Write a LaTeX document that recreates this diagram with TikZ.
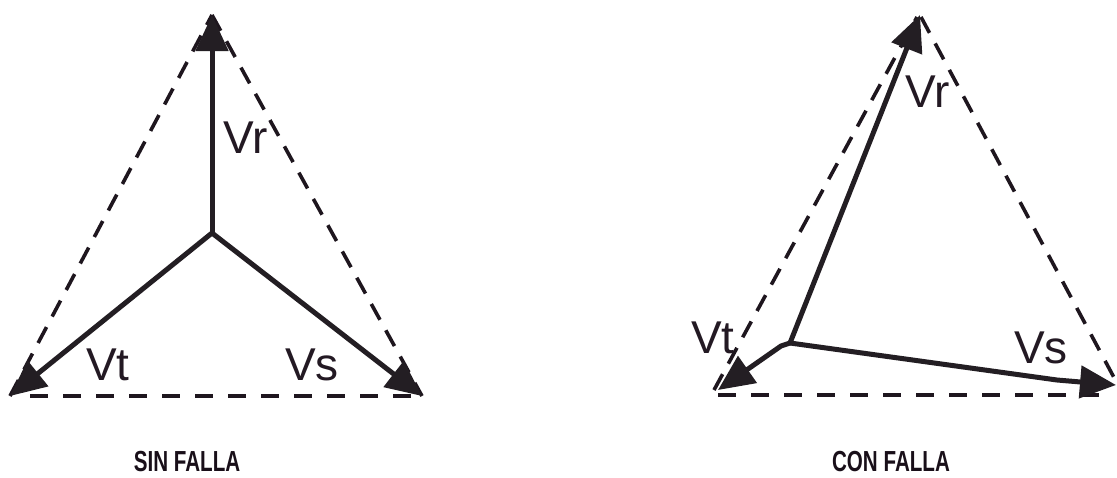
\documentclass[tikz,border=0pt]{standalone}
\usepackage{fontspec}
\setmainfont{Liberation Sans}
\usetikzlibrary{arrows.meta}
\begin{document}
\begin{tikzpicture}[x=1pt,y=-1pt,
  vec/.style={line width=5pt,draw={rgb,255:red,35;green,30;blue,35},-{Triangle[length=36pt,width=32pt]}},
  dsh/.style={line width=3.6pt,draw={rgb,255:red,30;green,22;blue,30},dash pattern=on 18pt off 12pt},
  dshb/.style={line width=3.8pt,draw={rgb,255:red,30;green,22;blue,30},dash pattern=on 18pt off 15pt},
  lbl/.style={font=\fontsize{46}{50}\selectfont,inner sep=0pt,anchor=base,text={rgb,255:red,35;green,25;blue,35}},
  captxt/.style={font=\bfseries\fontsize{29}{32}\selectfont,inner sep=0pt,anchor=base,text={rgb,255:red,25;green,15;blue,25}}]
\useasboundingbox (0,0) rectangle (1117,477);
% left diagram
\coordinate (O1) at (212,233);
\coordinate (R1) at (212,15);
\coordinate (T1) at (10,396);
\coordinate (S1) at (422,396);
\coordinate (T1d) at (10,396);
\coordinate (B1a) at (30,396);
\coordinate (B1b) at (420,396);
\draw[dsh] (T1d) -- (R1);
\draw[dsh] (R1) -- (S1);
\draw[dshb] (B1a) -- (B1b);
\draw[vec] (O1) -- (R1);
\draw[vec] (O1) -- (T1);
\draw[vec] (O1) -- (S1);
\node[lbl] (vr1) at (246,153) {Vr};
\node[lbl] (vt1) at (108,380) {Vt};
\node[lbl] (vs1) at (312,380) {Vs};
\node[captxt] (c1) at (187,471) {\scalebox{0.71}[1]{SIN FALLA}};
% right diagram
\coordinate (O2) at (790,343);
\coordinate (K2) at (781,346);
\coordinate (R2) at (920,15);
\coordinate (T2) at (718,390);
\coordinate (S2) at (1116,385);
\coordinate (L2a) at (714,390);
\coordinate (L2b) at (917,17);
\coordinate (M2a) at (921,17);
\coordinate (M2b) at (1118,385);
\coordinate (B2a) at (718,395);
\coordinate (B2b) at (1108,395);
\coordinate (S2k) at (1057,380);
\draw[dsh] (L2a) -- (L2b);
\draw[dsh] (M2a) -- (M2b);
\draw[dshb] (B2a) -- (B2b);
\draw[vec] (O2) -- (R2);
\draw[vec] (O2) -- (K2) -- (T2);
\draw[vec] (O2) -- (S2k) -- (S2);
\node[lbl] (vr2) at (928,107) {Vr};
\node[lbl] (vt2) at (713,353) {Vt};
\node[lbl] (vs2) at (1041,363) {Vs};
\node[captxt] (c2) at (891,471) {\scalebox{0.71}[1]{CON FALLA}};
\end{tikzpicture}
\end{document}
